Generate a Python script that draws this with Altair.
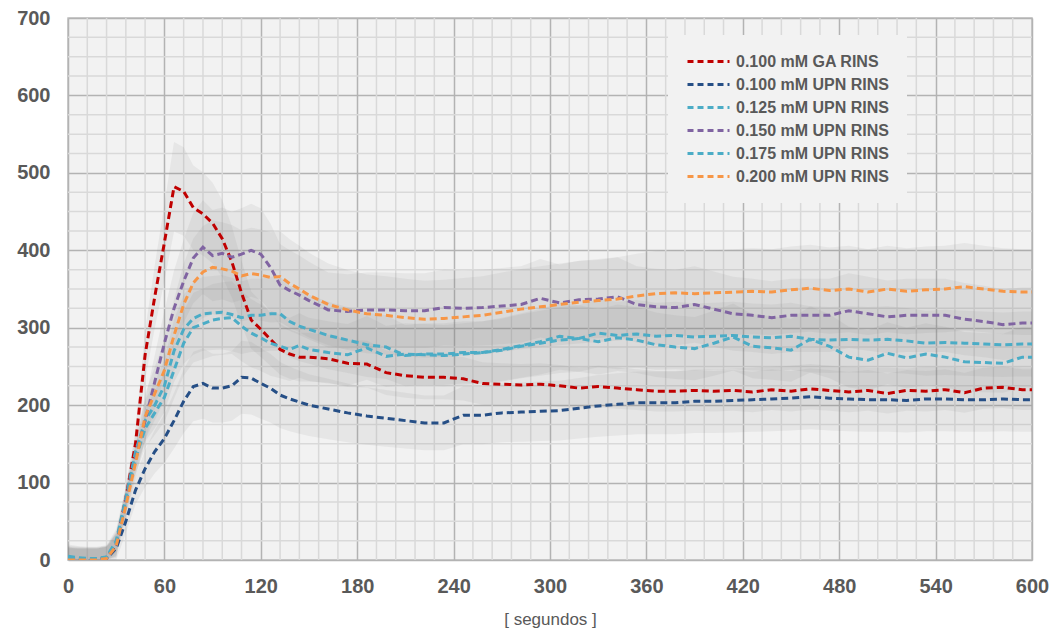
import altair as alt
import pandas as pd

# time (s)
T = [0, 6, 12, 18, 24, 30, 36, 42, 48, 54, 60, 66, 72, 78, 84, 90, 96, 102, 108, 114,
     120, 126, 132, 138, 144, 150, 162, 174, 186, 198, 210, 222, 234, 246, 258, 270,
     282, 294, 306, 318, 330, 342, 354, 366, 378, 390, 402, 414, 426, 438, 450, 462,
     474, 486, 498, 510, 522, 534, 546, 558, 570, 582, 594, 600]

GA_100 = [2, 1, 1, 1, 3, 20, 80, 150, 265, 340, 410, 482, 476, 455, 447, 435, 415, 385, 345, 310,
          298, 285, 272, 266, 262, 262, 260, 254, 253, 242, 238, 236, 236, 234, 228, 227,
          226, 227, 225, 222, 224, 222, 220, 218, 218, 219, 218, 219, 217, 220, 218, 221,
          219, 217, 219, 215, 219, 218, 220, 216, 222, 223, 220, 220]

UPN_100 = [1, 0, 0, 0, 2, 15, 50, 90, 118, 140, 157, 180, 205, 224, 228, 222, 222, 225, 236, 235,
           228, 222, 213, 208, 204, 200, 195, 190, 186, 183, 180, 177, 177, 187, 187, 190,
           191, 192, 193, 196, 199, 201, 203, 203, 203, 205, 205, 206, 207, 208, 209, 211,
           209, 208, 207, 207, 206, 208, 208, 207, 207, 208, 207, 207]

UPN_125 = [5, 3, 2, 2, 4, 25, 80, 140, 180, 200, 225, 270, 298, 312, 318, 319, 320, 317, 313, 316,
           316, 318, 318, 308, 302, 298, 290, 284, 278, 275, 264, 266, 266, 268, 268, 272,
           277, 282, 289, 286, 293, 290, 292, 289, 290, 288, 289, 290, 288, 287, 289, 285,
           284, 285, 284, 285, 283, 280, 281, 280, 279, 278, 279, 279]

UPN_150 = [1, 0, 0, 0, 2, 20, 75, 130, 180, 230, 280, 325, 360, 390, 404, 393, 396, 391, 395, 400,
           395, 378, 355, 348, 342, 335, 323, 321, 323, 323, 322, 322, 326, 325, 326, 328,
           330, 338, 332, 336, 337, 340, 330, 327, 326, 330, 324, 318, 316, 313, 316, 316,
           316, 322, 318, 314, 316, 316, 316, 311, 308, 304, 306, 306]

UPN_175 = [3, 2, 1, 1, 3, 22, 75, 130, 170, 190, 210, 245, 280, 300, 305, 310, 312, 313, 302, 293,
           287, 280, 276, 272, 277, 272, 268, 265, 274, 263, 266, 265, 264, 266, 268, 271,
           276, 280, 284, 286, 282, 287, 284, 278, 275, 273, 280, 288, 276, 274, 271, 285,
           276, 262, 258, 267, 261, 266, 262, 256, 255, 254, 262, 262]

UPN_200 = [0, 0, 0, 0, 2, 18, 70, 125, 185, 215, 245, 290, 330, 358, 372, 378, 376, 373, 367, 370,
           368, 365, 366, 357, 350, 342, 330, 323, 318, 316, 313, 311, 312, 314, 316, 320,
           324, 327, 330, 333, 335, 337, 341, 344, 345, 344, 345, 346, 347, 346, 349, 351,
           348, 350, 346, 350, 347, 349, 350, 353, 350, 347, 346, 346]

SERIES = ["0.100 mM GA RINS", "0.100 mM UPN RINS", "0.125 mM UPN RINS",
          "0.150 mM UPN RINS", "0.175 mM UPN RINS", "0.200 mM UPN RINS"]
VALUES = [GA_100, UPN_100, UPN_125, UPN_150, UPN_175, UPN_200]
COLORS = ["#c00000", "#264f86", "#4bacc6", "#8064a2", "#4bacc6", "#f79646"]
# relative spread of the grey error bands, and their minimum half-width
CV = [0.12, 0.20, 0.15, 0.15, 0.15, 0.16]
BAND_FLOOR = 15

X_TICKS = list(range(0, 601, 60))
Y_TICKS = list(range(0, 701, 100))
X_MINOR = [t for t in range(0, 601, 12) if t % 60]
Y_MINOR = [v for v in range(0, 701, 25) if v % 100]

rows = []
for name, vals, cv in zip(SERIES, VALUES, CV):
    for t, v in zip(T, vals):
        half = max(v * cv, BAND_FLOOR)
        rows.append(dict(t=t, v=v, lo=max(v - half, 0), hi=v + half, series=name))
df = pd.DataFrame(rows)

FONT = "Liberation Sans"
GREY = "#595959"

xscale = alt.Scale(domain=[0, 600], nice=False, zero=False)
yscale = alt.Scale(domain=[0, 700], nice=False)

X_AX = alt.Axis(values=X_TICKS, grid=True, ticks=False, domain=False,
                labelFontSize=20, labelFontWeight="bold", labelFont=FONT, labelColor=GREY,
                labelPadding=16, labelFlush=False,
                title="[ segundos ]", titleFontSize=17, titleFontWeight="normal",
                titleFont=FONT, titleColor=GREY, titlePadding=15,
                gridColor="#b3b3b3", gridWidth=1.5)
Y_AX = alt.Axis(values=Y_TICKS, grid=True, ticks=False, domain=False,
                labelFontSize=20, labelFontWeight="bold", labelFont=FONT, labelColor=GREY,
                labelPadding=18, labelFlush=False, title=None,
                gridColor="#b3b3b3", gridWidth=1.5)

xminor = alt.Chart(pd.DataFrame({"x": X_MINOR})).mark_rule(
    color="#d9d9d9", strokeWidth=1.5).encode(
    x=alt.X("x:Q", scale=xscale, axis=X_AX))

yminor = alt.Chart(pd.DataFrame({"y": Y_MINOR})).mark_rule(
    color="#d9d9d9", strokeWidth=1.5).encode(
    y=alt.Y("y:Q", scale=yscale, axis=Y_AX))

bands = alt.Chart(df).mark_area(fill="#808080", opacity=0.1, clip=True).encode(
    x=alt.X("t:Q", scale=xscale, axis=X_AX),
    y=alt.Y("lo:Q", scale=yscale, axis=Y_AX),
    y2="hi:Q",
    detail="series:N",
)

lines = alt.Chart(df).mark_line(strokeWidth=3, strokeDash=[7, 4], clip=True).encode(
    x=alt.X("t:Q", scale=xscale, axis=X_AX),
    y=alt.Y("v:Q", scale=yscale, axis=Y_AX),
    color=alt.Color("series:N", scale=alt.Scale(domain=SERIES, range=COLORS),
                    legend=alt.Legend(orient="none", legendX=600, legendY=17, title=None,
                                      symbolType="M-1,0H5", symbolSize=196,
                                      symbolStrokeWidth=3, symbolDash=[6, 4],
                                      labelOffset=33, labelFont=FONT, labelFontSize=16,
                                      labelFontWeight="bold", labelColor=GREY,
                                      fillColor="#f2f2f2", padding=18, rowPadding=6,
                                      labelLimit=400)),
)

chart = alt.layer(xminor, yminor, bands, lines).properties(
    width=964, height=542,
    autosize=alt.AutoSizeParams(type="none"),
    padding={"left": 60, "top": 10, "right": 20, "bottom": 70},
).configure_view(fill="#f2f2f2", stroke="#bfbfbf", strokeWidth=1.5)

chart.save("out.html", embed_options={"renderer": "svg", "actions": False})
